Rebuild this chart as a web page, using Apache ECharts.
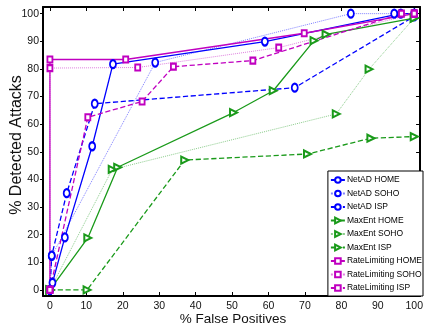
<!DOCTYPE html>
<html>
<head>
<meta charset="utf-8">
<script src="https://cdn.jsdelivr.net/npm/echarts@6/dist/echarts.min.js"></script>
<style>
html,body{margin:0;padding:0;background:#fff;}
#chart{width:426px;height:329px;}
</style>
</head>
<body>
<div id="chart"></div>
<script>
// Tick values
const xTicks = [0,10,20,30,40,50,60,70,80,90,100];
const yTicks = [0,10,20,30,40,50,60,70,80,90,100];

// Series data: [% false positives, % detected attacks]
const netadHome = [[0,0],[0.7,2.6],[4.1,19],[11.6,52],[17.3,81.7],[59,89.9],[96.3,100],[100,100]];
const netadSoho = [[0,0],[0.5,12.3],[28.9,82.3],[82.6,100],[94.5,100],[100,100]];
const netadIsp = [[0,0],[0.5,12.4],[4.6,35],[12.3,67.4],[67.2,73.2],[100,99]];
const maxentHome = [[0,0],[10.4,18.8],[18.6,44.4],[50.4,64.2],[61.3,72.1],[72.5,90.2],[75.8,92.5],[100,98.4]];
const maxentSoho = [[0,0],[17.1,43.6],[78.6,63.7],[87.6,79.9],[100,98.4]];
const maxentIsp = [[0,0],[10.2,0],[37,47],[70.7,49.2],[88.1,54.9],[100,55.5]];
const rateHome = [[0,0],[0,83.4],[20.8,83.4],[69.8,92.9],[100,100]];
const rateSoho = [[0,0],[0,80.3],[24.1,80.5],[62.8,87.7],[100,100]];
const rateIsp = [[0,0],[10.4,62.5],[25.3,68.2],[33.9,80.8],[55.7,83],[96.5,100],[100,100]];

const names = ['NetAD HOME','NetAD SOHO','NetAD ISP','MaxEnt HOME','MaxEnt SOHO','MaxEnt ISP','RateLimiting HOME','RateLimiting SOHO','RateLimiting ISP'];

const BLUE = '#0000ff', GREEN = '#1a9a1a', MAG = '#c000c0';
const FONT = "'Liberation Sans',Arial,sans-serif";

function mk(name, data, color, style, symbol, rotate) {
  const dotted = style === 'dotted';
  let size = 7;
  if (symbol === 'emptyCircle') size = [6, 8];
  if (symbol === 'emptyRect') size = [5, 6];
  return {
    name: name, type: 'line', data: data,
    symbol: symbol, symbolSize: size,
    symbolRotate: rotate || 0,
    showAllSymbol: true,
    animation: false,
    lineStyle: {color: color, width: dotted ? 1 : 1.3, type: style, opacity: dotted ? 0.5 : 1},
    itemStyle: {color: color, borderColor: color, borderWidth: 1.2},
    emphasis: {disabled: true}
  };
}

const chart = echarts.init(document.getElementById('chart'), null, {renderer: 'canvas'});

const axisCommon = {
  type: 'value',
  axisLine: {show: true, onZero: false, lineStyle: {color: '#000', width: 2}},
  splitLine: {show: false}
};

chart.setOption({
  backgroundColor: '#fff',
  animation: false,
  grid: {left: 43, right: 3, top: 7, bottom: 33},
  xAxis: [
    Object.assign({}, axisCommon, {
      min: -1.9, max: 101.6, position: 'bottom',
      axisTick: {show: true, inside: true, length: 4, customValues: xTicks, lineStyle: {color: '#000'}},
      axisLabel: {customValues: xTicks, color: '#111', fontFamily: FONT, fontSize: 10.5, margin: 5}
    }),
    Object.assign({}, axisCommon, {
      min: -1.9, max: 101.6, position: 'top',
      axisTick: {show: true, inside: true, length: 4, customValues: xTicks, lineStyle: {color: '#000'}},
      axisLabel: {show: false}
    })
  ],
  yAxis: [
    Object.assign({}, axisCommon, {
      min: -2.2, max: 102.4, position: 'left',
      axisTick: {show: true, inside: false, length: 3, customValues: yTicks, lineStyle: {color: '#000'}},
      axisLabel: {customValues: yTicks, color: '#111', fontFamily: FONT, fontSize: 10.5, margin: 4}
    }),
    Object.assign({}, axisCommon, {
      min: -2.2, max: 102.4, position: 'right',
      axisTick: {show: true, inside: true, length: 4, customValues: yTicks, lineStyle: {color: '#000'}},
      axisLabel: {show: false}
    })
  ],
  legend: {
    data: names,
    orient: 'vertical',
    right: 3, bottom: 33,
    backgroundColor: '#fff',
    borderColor: '#000', borderWidth: 1, borderRadius: 0,
    padding: [4, 1, 3, 2],
    itemWidth: 14, itemHeight: 7, itemGap: 3.5,
    textStyle: {color: '#000', fontFamily: FONT, fontSize: 8.5, lineHeight: 10, padding: [0, 0, 0, -3]},
    selectedMode: false
  },
  graphic: [
    {type: 'text', x: 233, y: 319, style: {text: '% False Positives', fontFamily: FONT, fontSize: 13.5, fill: '#111', textAlign: 'center', textVerticalAlign: 'middle'}},
    {type: 'text', x: 17, y: 145, rotation: Math.PI / 2, style: {text: '% Detected Attacks', fontFamily: FONT, fontSize: 16, fill: '#111', textAlign: 'center', textVerticalAlign: 'middle'}}
  ],
  series: [
    mk(names[0], netadHome, BLUE, 'solid', 'emptyCircle'),
    mk(names[1], netadSoho, BLUE, 'dotted', 'emptyCircle'),
    mk(names[2], netadIsp, BLUE, 'dashed', 'emptyCircle'),
    mk(names[3], maxentHome, GREEN, 'solid', 'emptyTriangle', -90),
    mk(names[4], maxentSoho, GREEN, 'dotted', 'emptyTriangle', -90),
    mk(names[5], maxentIsp, GREEN, 'dashed', 'emptyTriangle', -90),
    mk(names[6], rateHome, MAG, 'solid', 'emptyRect'),
    mk(names[7], rateSoho, MAG, 'dotted', 'emptyRect'),
    mk(names[8], rateIsp, MAG, 'dashed', 'emptyRect')
  ]
});
</script>
</body>
</html>
